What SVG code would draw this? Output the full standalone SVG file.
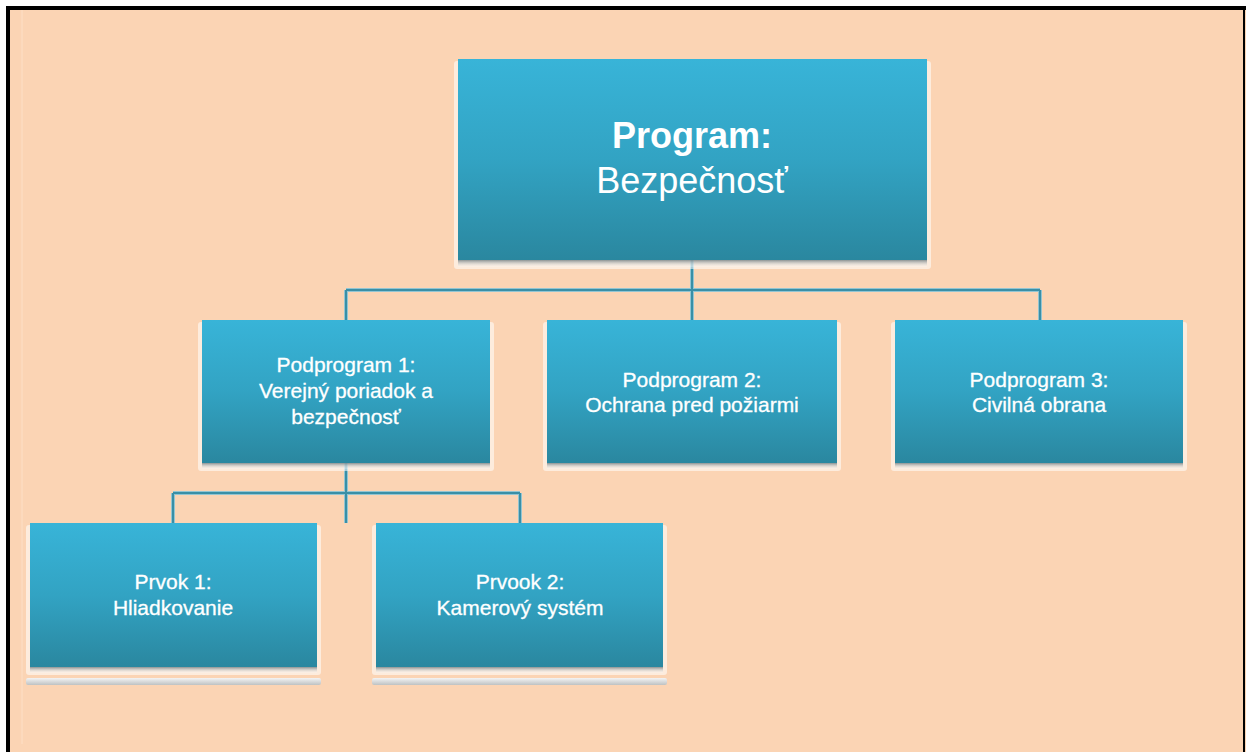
<svg xmlns="http://www.w3.org/2000/svg" width="1246" height="752" viewBox="0 0 1246 752">
  <defs>
    <linearGradient id="boxFill" x1="0" y1="0" x2="0" y2="1">
      <stop offset="0" stop-color="#38B4D8"/>
      <stop offset="0.5" stop-color="#32A3C3"/>
      <stop offset="1" stop-color="#2A879F"/>
    </linearGradient>
    <linearGradient id="shadowFill" x1="0" y1="0" x2="0" y2="1">
      <stop offset="0" stop-color="#6F7C80" stop-opacity="0.8"/>
      <stop offset="1" stop-color="#FFFFFF" stop-opacity="0.2"/>
    </linearGradient>
    <linearGradient id="reflectFill" x1="0" y1="0" x2="0" y2="1">
      <stop offset="0" stop-color="#F4F4F4"/>
      <stop offset="1" stop-color="#BEC2C3"/>
    </linearGradient>
  </defs>
  <style>
    .halo { fill: #FFFFFF; fill-opacity: 0.55; }
    .box { fill: url(#boxFill); }
    .shadow { fill: url(#shadowFill); }
    .reflect { fill: url(#reflectFill); }
    .lbl { font-family: "Liberation Sans", Arial, sans-serif; fill: #FFFFFF; text-anchor: middle; }
    .big { font-size: 36px; }
    .mid { font-size: 21px; stroke: #FFFFFF; stroke-width: 0.3; }
    .edge { fill: none; stroke: #93C5D2; stroke-width: 4; }
    .core { fill: none; stroke: #3A8FA6; stroke-width: 2; }
  </style>

  <!-- page background and frame -->
  <rect x="0" y="0" width="1246" height="752" fill="#FFFFFF"/>
  <rect x="6" y="6" width="1240" height="746" fill="#FBD4B4"/>
  <line x1="22" y1="10" x2="22" y2="744" stroke="#FDDFC6" stroke-width="1"/>
  <rect x="6" y="6" width="1240" height="4" fill="#000000"/>
  <rect x="6" y="6" width="4" height="746" fill="#000000"/>
  <rect x="1243" y="6" width="2" height="746" fill="#000000"/>

  <!-- connectors -->
  <g id="connectors">
    <path class="edge" d="M692,260 V320 M346,290 H1040 M346,290 V320 M1040,290 V320 M346,463 V523 M173,493 H520 M173,493 V523 M520,493 V523"/>
    <path class="core" d="M692,260 V320 M346,290 H1040 M346,290 V320 M1040,290 V320 M346,463 V523 M173,493 H520 M173,493 V523 M520,493 V523"/>
  </g>

  <!-- root -->
  <g id="program">
    <rect class="halo" x="454" y="61" width="477" height="208" rx="3"/>
    <rect class="shadow" x="458" y="260" width="469" height="7"/>
    <rect class="box" x="458" y="59" width="469" height="201"/>
    <text class="lbl big" x="692" y="148" font-weight="bold">Program:</text>
    <text class="lbl big" x="692" y="193">Bezpečnosť</text>
  </g>

  <g id="podprogram1">
    <rect class="halo" x="198" y="322" width="296" height="149" rx="3"/>
    <rect class="shadow" x="202" y="463" width="288" height="6"/>
    <rect class="box" x="202" y="320" width="288" height="143"/>
    <text class="lbl mid" x="346" y="372">Podprogram 1:</text>
    <text class="lbl mid" x="346" y="398">Verejný poriadok a</text>
    <text class="lbl mid" x="346" y="424">bezpečnosť</text>
  </g>

  <g id="podprogram2">
    <rect class="halo" x="543" y="322" width="298" height="149" rx="3"/>
    <rect class="shadow" x="547" y="463" width="290" height="6"/>
    <rect class="box" x="547" y="320" width="290" height="143"/>
    <text class="lbl mid" x="692" y="387">Podprogram 2:</text>
    <text class="lbl mid" x="692" y="412">Ochrana pred požiarmi</text>
  </g>

  <g id="podprogram3">
    <rect class="halo" x="891" y="322" width="296" height="149" rx="3"/>
    <rect class="shadow" x="895" y="463" width="288" height="6"/>
    <rect class="box" x="895" y="320" width="288" height="143"/>
    <text class="lbl mid" x="1039" y="387">Podprogram 3:</text>
    <text class="lbl mid" x="1039" y="412">Civilná obrana</text>
  </g>

  <g id="prvok1">
    <rect class="halo" x="26" y="525" width="295" height="150" rx="3"/>
    <rect class="shadow" x="30" y="667" width="287" height="6"/>
    <rect class="reflect" x="26" y="678" width="295" height="7" rx="2"/>
    <rect class="box" x="30" y="523" width="287" height="144"/>
    <text class="lbl mid" x="173" y="589">Prvok 1:</text>
    <text class="lbl mid" x="173" y="615">Hliadkovanie</text>
  </g>

  <g id="prvok2">
    <rect class="halo" x="372" y="525" width="295" height="150" rx="3"/>
    <rect class="shadow" x="376" y="667" width="287" height="6"/>
    <rect class="reflect" x="372" y="678" width="295" height="7" rx="2"/>
    <rect class="box" x="376" y="523" width="287" height="144"/>
    <text class="lbl mid" x="520" y="589">Prvook 2:</text>
    <text class="lbl mid" x="520" y="615">Kamerový systém</text>
  </g>
</svg>
